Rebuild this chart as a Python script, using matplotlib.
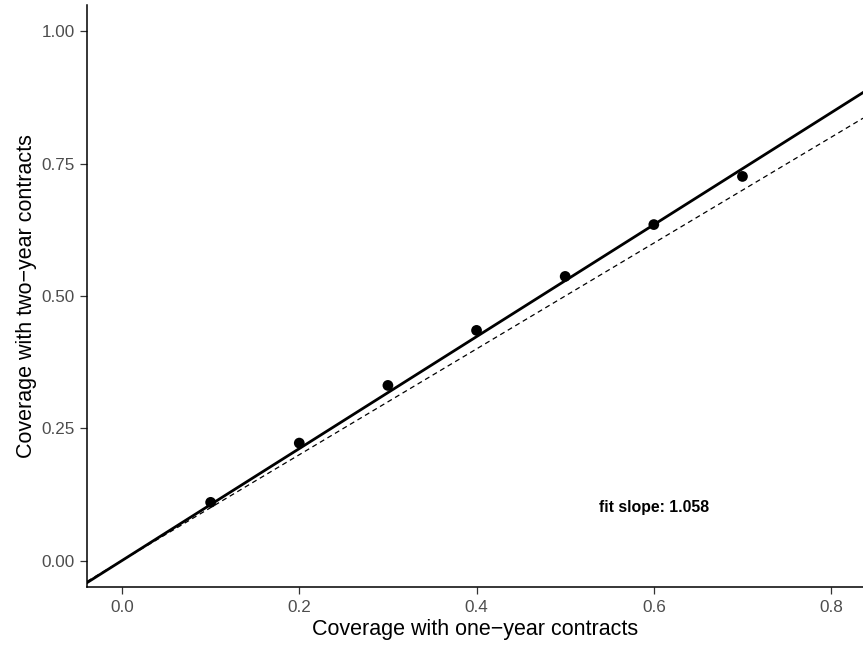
import matplotlib
matplotlib.use('Agg')
import matplotlib.pyplot as plt
import numpy as np

# Coverage values
one_year = [0.1, 0.2, 0.3, 0.4, 0.5, 0.6, 0.7]
two_year = [0.110, 0.222, 0.331, 0.435, 0.537, 0.635, 0.726]
fit_slope = 1.058
x_ticks = [0.0, 0.2, 0.4, 0.6, 0.8]
x_tick_labels = ['0.0', '0.2', '0.4', '0.6', '0.8']
y_ticks = [0.0, 0.25, 0.5, 0.75, 1.0]
y_tick_labels = ['0.00', '0.25', '0.50', '0.75', '1.00']

plt.rcParams['font.family'] = ['Liberation Sans', 'DejaVu Sans']

fig = plt.figure(figsize=(8.63, 6.45), dpi=100)
ax = fig.add_axes([87 / 863, 58 / 645, 776 / 863, 582 / 645])

xlim = (-0.0395, 0.836)
ylim = (-0.05, 1.05)

# reference line y = x (dashed) and fitted line through origin (solid)
xs = np.array(xlim)
ax.plot(xs, xs, color='black', linestyle=(0, (4, 3)), linewidth=0.9, zorder=2)
ax.plot(xs, fit_slope * xs, color='black', linewidth=2.0, zorder=3)
ax.scatter(one_year, two_year, s=60, color='black', zorder=4, edgecolors='none')

ax.text(0.6, 0.1, 'fit slope: %.3f' % fit_slope, ha='center', va='center',
        fontsize=11.4, fontweight='bold')

ax.set_xlim(*xlim)
ax.set_ylim(*ylim)
ax.set_xticks(x_ticks)
ax.set_xticklabels(x_tick_labels)
ax.set_yticks(y_ticks)
ax.set_yticklabels(y_tick_labels)

for side in ['top', 'right']:
    ax.spines[side].set_visible(False)
for side in ['left', 'bottom']:
    ax.spines[side].set_linewidth(1.1)
ax.tick_params(axis='both', length=5, width=0.9, color='#333333',
               labelsize=12.3, labelcolor='#4D4D4D', pad=4)

ax.set_xlabel('Coverage with one\u2212year contracts', fontsize=15.5, labelpad=3)
ax.set_ylabel('Coverage with two\u2212year contracts', fontsize=15.5, labelpad=3)

fig.savefig('out.png', dpi=100)
